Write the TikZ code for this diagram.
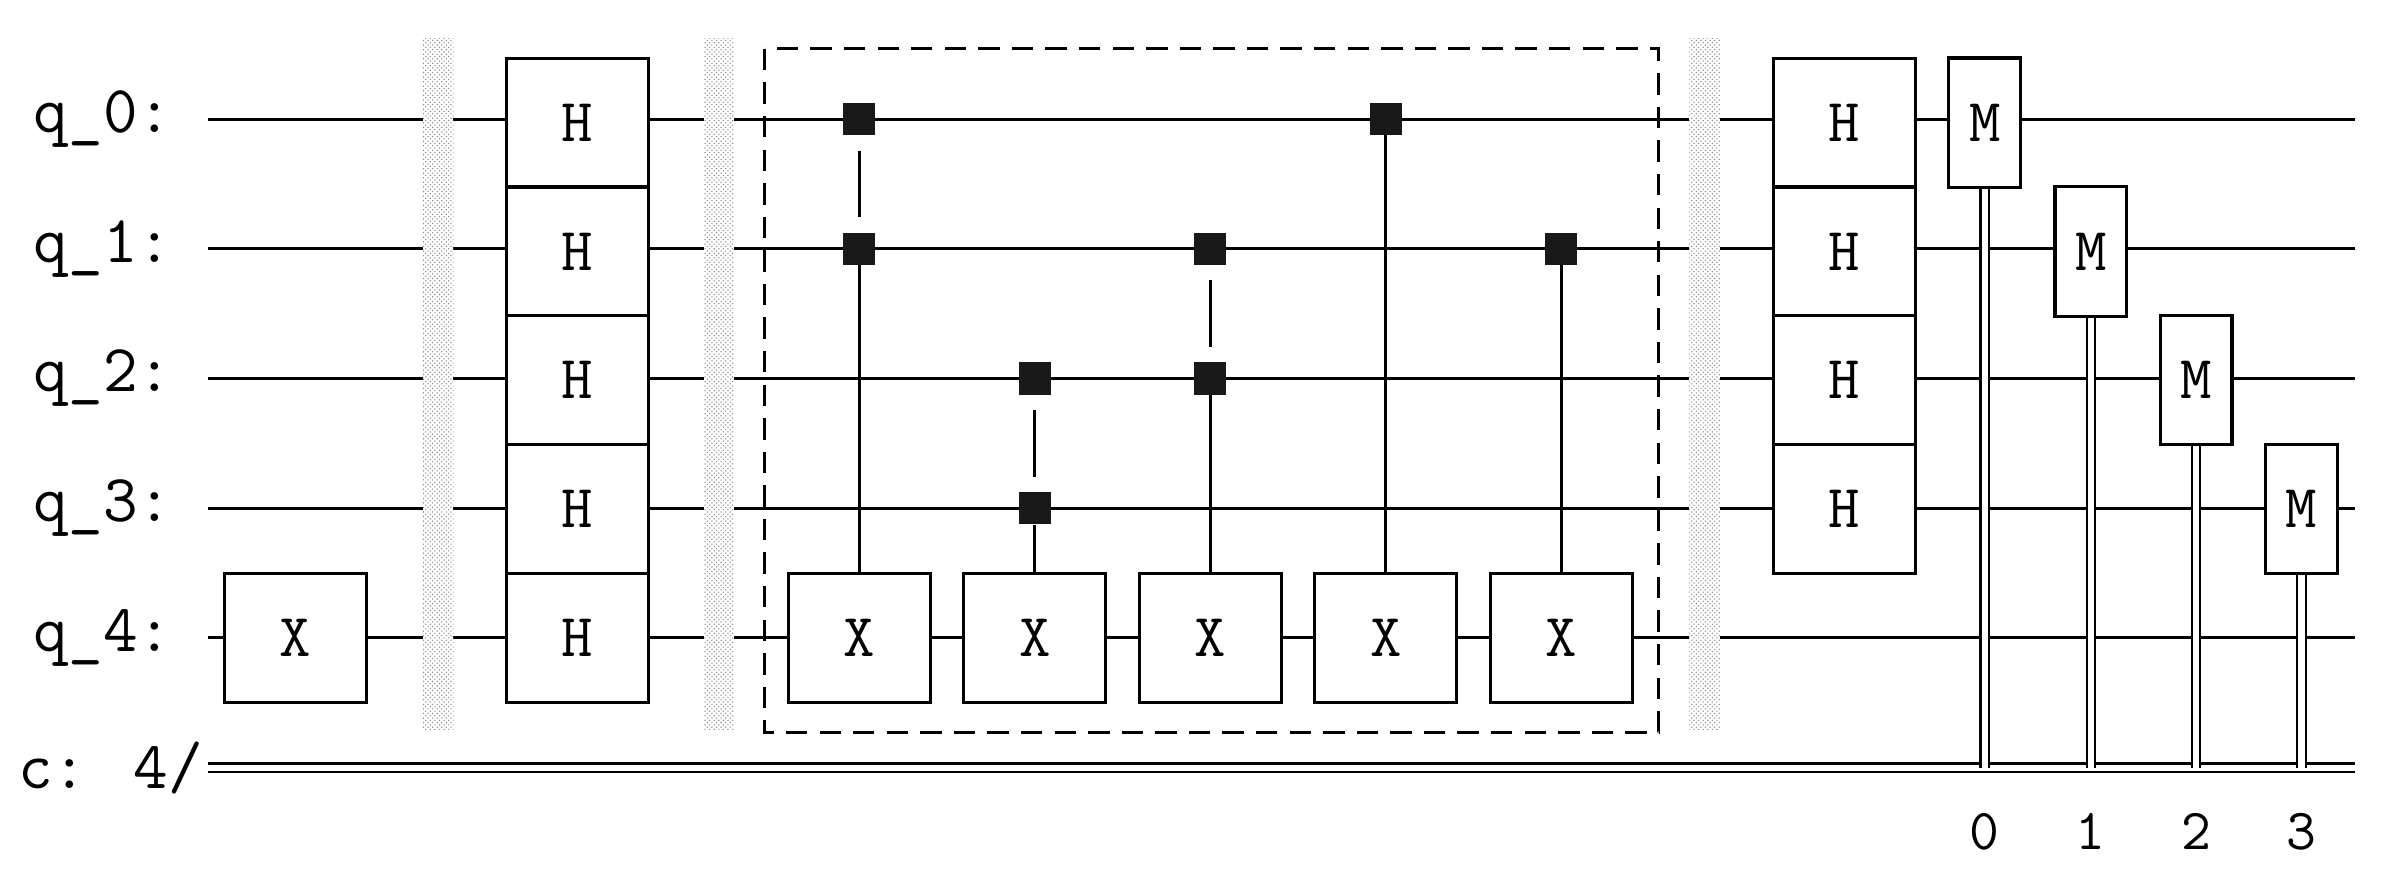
\documentclass[tikz,border=0pt]{standalone}
\usepackage{fontspec}
\usetikzlibrary{patterns}
\begin{document}
\begin{tikzpicture}[x=1pt,y=-1pt,
 wire/.style={line width=2pt},
 gate/.style={draw,line width=2pt,fill=white,minimum width=93pt,minimum height=84pt,inner sep=0pt,font=\ttfamily\fontsize{40}{40}\selectfont},
 mgate/.style={draw,line width=2pt,fill=white,minimum width=47pt,minimum height=85pt,inner sep=0pt,font=\ttfamily\fontsize{40}{40}\selectfont},
 lab/.style={anchor=west,inner sep=0pt,font=\ttfamily\fontsize{44}{44}\selectfont},
 barrier/.style={pattern=crosshatch dots,pattern color=gray!90,draw=none},
 ctrl/.style={fill=black!90,minimum size=21pt,inner sep=0pt},
 cl/.style={double,double distance=4pt,line width=1.5pt}]
\useasboundingbox (0,0) rectangle (1568,577);
\foreach \i/\y in {0/78,1/163,2/248,3/333,4/418}{
 \node[lab] (l\i) at (22,\y) {q\_\i:};
 \draw[wire] (136,\y) -- (1543,\y);}
\node[lab,anchor=east] (lc) at (133,503) {c: 4/};
\draw[cl] (136,503) -- (1543,503);
\foreach \n/\x in {b1/287,b2/471,b3/1117}{\fill[white] (\x-10,25) rectangle (\x+10,478);\fill[barrier] (\x-10,25) rectangle (\x+10,478);}
\node[gate] (x0) at (193.5,418) {X};
\foreach \i/\y in {0/80.5,1/165,2/249,3/333.5,4/418}{\node[gate] (h\i) at (378.5,\y) {H};}
\draw[line width=2pt,dash pattern=on 14pt off 8pt] (501,32) rectangle (1087,480);
\foreach \i/\x in {1/563,2/678,3/793,4/908,5/1023}{\node[gate] (cx\i) at (\x,418) {X};}
\node[ctrl] (c1a) at (563,78) {}; \node[ctrl] (c1b) at (563,163) {};
\node[ctrl] (c2a) at (678,248) {}; \node[ctrl] (c2b) at (678,333) {};
\node[ctrl] (c3a) at (793,163) {}; \node[ctrl] (c3b) at (793,248) {};
\node[ctrl] (c4) at (908,78) {};
\node[ctrl] (c5) at (1023,163) {};
\foreach \a/\b in {c1a/c1b,c2a/c2b,c3a/c3b}{\draw[wire,shorten <=10pt,shorten >=10pt] (\a) -- (\b);}
\foreach \a/\b in {c1b/cx1,c2b/cx2,c3b/cx3,c4/cx4,c5/cx5}{\draw[wire] (\a) -- (\b);}
\foreach \i/\y in {0/80.5,1/165,2/249,3/333.5}{\node[gate] (hh\i) at (1208.5,\y) {H};}
\foreach \i/\x/\y in {0/1300.5/80.5,1/1370/165,2/1439/249,3/1508/333.5}{
 \node[mgate] (m\i) at (\x,\y) {M};
 \coordinate (e\i) at (\x,503);
 \draw[cl] (m\i.south) -- (e\i);
 \node[font=\ttfamily\fontsize{38}{38}\selectfont,inner sep=0pt] (n\i) at (\x,545) {\i};}
\end{tikzpicture}
\end{document}
